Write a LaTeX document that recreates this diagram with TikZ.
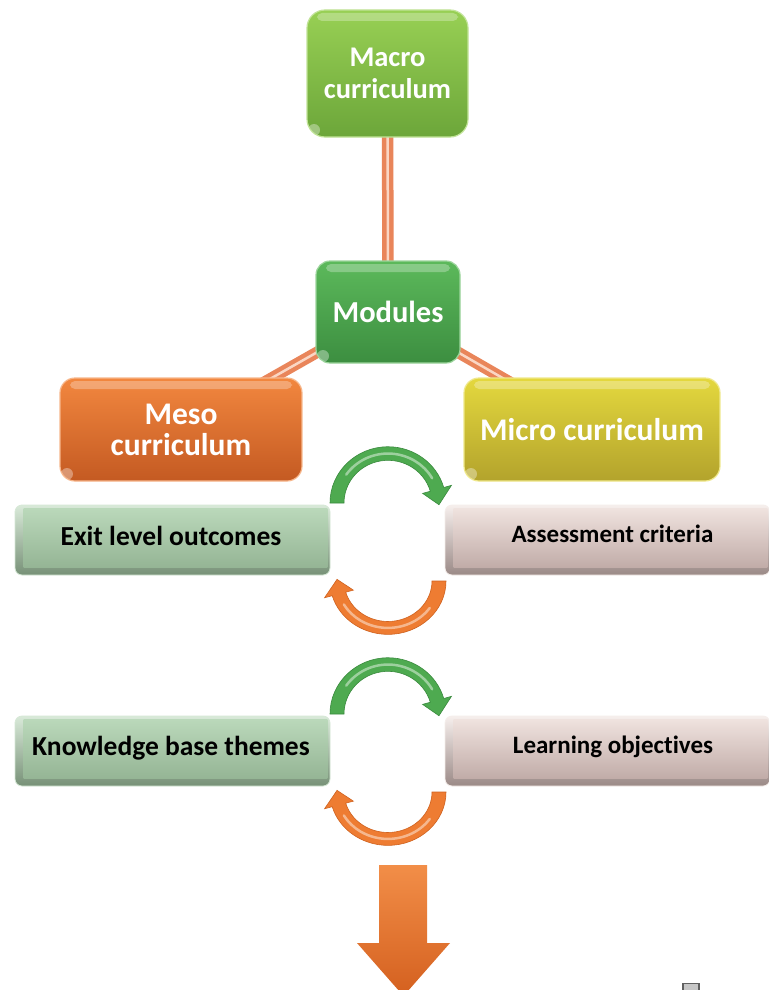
\documentclass[tikz,border=0pt]{standalone}
\usepackage{fontspec}
\setmainfont{Carlito}[Ligatures={NoCommon,NoRequired,NoContextual}]
\pgfdeclarelayer{bg}
\pgfsetlayers{bg,main}

\definecolor{macroTop}{HTML}{98D054}
\definecolor{macroBot}{HTML}{6CA63A}
\definecolor{modTop}{HTML}{5CB95B}
\definecolor{modBot}{HTML}{3C8E40}
\definecolor{mesoTop}{HTML}{F2873F}
\definecolor{mesoBot}{HTML}{C45A22}
\definecolor{microTop}{HTML}{E4D83E}
\definecolor{microBot}{HTML}{B3A32C}
\definecolor{linkOrange}{HTML}{E9855A}
\definecolor{linkLight}{HTML}{FAD6C4}
\definecolor{sageTop}{HTML}{BAD8BA}
\definecolor{sageBot}{HTML}{95B595}
\definecolor{roseTop}{HTML}{EFE2DE}
\definecolor{roseBot}{HTML}{C1ACA8}
\definecolor{arcGreen}{HTML}{4EAA50}
\definecolor{arcGreenDark}{HTML}{3A8A3E}
\definecolor{arcOrange}{HTML}{EE7C32}
\definecolor{arcOrangeDark}{HTML}{CF621F}
\definecolor{downTop}{HTML}{F28E48}
\definecolor{downBot}{HTML}{D4601F}

\tikzset{
  gloss/.style={path picture={
      \fill[white, opacity=0.28, rounded corners=5pt]
        ([shift={(10pt,-3pt)}]path picture bounding box.north west) rectangle
        ([shift={(-10pt,-11pt)}]path picture bounding box.north east);
      \fill[white, opacity=0.35]
        ([shift={(7pt,7pt)}]path picture bounding box.south west) circle (6pt);}},
  levelbox/.style={rectangle, rounded corners=15pt, line width=1.2pt,
      text=white, align=center, inner sep=0pt, gloss,
      font=\fontsize{30}{32}\selectfont\bfseries},
  link/.style={draw=linkOrange, double=linkLight, double distance=2.5pt, line width=4.5pt},
  platebox/.style={rectangle, rounded corners=7pt, inner sep=0pt,
      minimum width=315pt, minimum height=70pt},
  sageplate/.style={platebox, top color=sageTop!55!white, bottom color=sageBot!80!black, draw=sageTop!60!white, line width=0.8pt},
  roseplate/.style={platebox, top color=roseTop!55!white, bottom color=roseBot!80!black, draw=roseTop!60!white, line width=0.8pt, minimum width=325pt},
  platetext/.style={anchor=base, inner sep=0pt, text=black},
  greenturn/.style={fill=arcGreen, draw=arcGreenDark, line width=0.6pt},
  orangeturn/.style={fill=arcOrange, draw=arcOrangeDark, line width=0.6pt},
}

% half-ring arrow: centre, rotation, vertical squash, fill style
\newcommand\turnarrow[4]{%
  \begin{scope}[shift={#1}, rotate=#2, yscale=#3]
    \filldraw[#4] (180:58) arc[start angle=180, end angle=344, radius=58]
      -- (344:66) -- (362:51) -- (344:36) -- (344:44)
      arc[start angle=344, end angle=180, radius=44] -- cycle;
    \draw[white, opacity=0.45, line width=2.5pt, line cap=round]
      (215:51) arc[start angle=215, end angle=330, radius=51];
  \end{scope}}

% bevelled face inside a plate
\newcommand\plateface[3]{%
  \shade[top color=#2, bottom color=#3]
    ([shift={(9pt,-4pt)}]#1.north west) -- ([shift={(-3pt,-4pt)}]#1.north east)
    -- ([shift={(-3pt,8pt)}]#1.south east) -- ([shift={(9pt,8pt)}]#1.south west) -- cycle;}

\begin{document}
\begin{tikzpicture}[x=1pt, y=-1pt]
  \useasboundingbox (0,0) rectangle (768,990);

  % curriculum levels
  \node[levelbox, top color=macroTop, bottom color=macroBot, draw=macroTop!60!white,
        minimum width=161pt, minimum height=127pt, rounded corners=18pt,
        font=\fontsize{28.5}{32}\selectfont\bfseries]
    (macro) at (387.5,73.5) {Macro\\curriculum};
  \node[levelbox, top color=modTop, bottom color=modBot, draw=modTop!60!white,
        minimum width=144pt, minimum height=102pt, rounded corners=14pt,
        font=\fontsize{30.5}{32}\selectfont\bfseries]
    (modules) at (388,312) {Modules};
  \node[levelbox, top color=mesoTop, bottom color=mesoBot, draw=mesoTop!60!white,
        minimum width=242pt, minimum height=103pt,
        font=\fontsize{31.5}{31}\selectfont\bfseries]
    (meso) at (181,429.5) {Meso\\curriculum};
  \node[levelbox, top color=microTop, bottom color=microBot, draw=microTop!60!white,
        minimum width=256pt, minimum height=103pt,
        font=\fontsize{31.5}{32}\selectfont\bfseries]
    (micro) at (592,429.5) {Micro curriculum};

  % white page and the links between levels, behind the boxes
  \begin{pgfonlayer}{bg}
    \fill[white] (0,0) rectangle (768,990);
    \draw[link] (macro.center) -- (modules.center);
    \draw[link] (modules.center) -- (meso.center);
    \draw[link] (modules.center) -- (micro.center);
  \end{pgfonlayer}

  % outcome and criteria plates
  \node[sageplate] (exitbox) at (172.5,540) {};
  \plateface{exitbox}{sageTop}{sageBot}
  \node[roseplate] (assessbox) at (607.5,540) {};
  \plateface{assessbox}{roseTop}{roseBot}
  \node[sageplate] (knowbox) at (172.5,751) {};
  \plateface{knowbox}{sageTop}{sageBot}
  \node[roseplate] (learnbox) at (607.5,751) {};
  \plateface{learnbox}{roseTop}{roseBot}

  \node[platetext, font=\fontsize{27.5}{30}\selectfont\bfseries] (exittext) at (171,545) {Exit level outcomes};
  \node[platetext, font=\fontsize{25}{30}\selectfont\bfseries] (assesstext) at (612.5,542) {Assessment criteria};
  \node[platetext, font=\fontsize{27.5}{30}\selectfont\bfseries] (knowtext) at (171,755) {Knowledge base themes};
  \node[platetext, font=\fontsize{25}{30}\selectfont\bfseries] (learntext) at (613,753) {Learning objectives};

  % exchange cycles between the columns
  \turnarrow{(388,503)}{0}{0.97}{greenturn}
  \turnarrow{(388,581)}{180}{0.92}{orangeturn}
  \turnarrow{(388,714)}{0}{0.97}{greenturn}
  \turnarrow{(388,792)}{180}{0.92}{orangeturn}

  % downward arrow
  \shade[top color=downTop, bottom color=downBot]
    (379,865) -- (427,865) -- (427,943) -- (450,943) -- (403.5,996)
    -- (357,943) -- (379,943) -- cycle;

  % small marker at the bottom edge
  \draw[draw=gray!75!black, fill=gray!45, line width=1.5pt] (683,983.5) rectangle (699,995);
\end{tikzpicture}
\end{document}
